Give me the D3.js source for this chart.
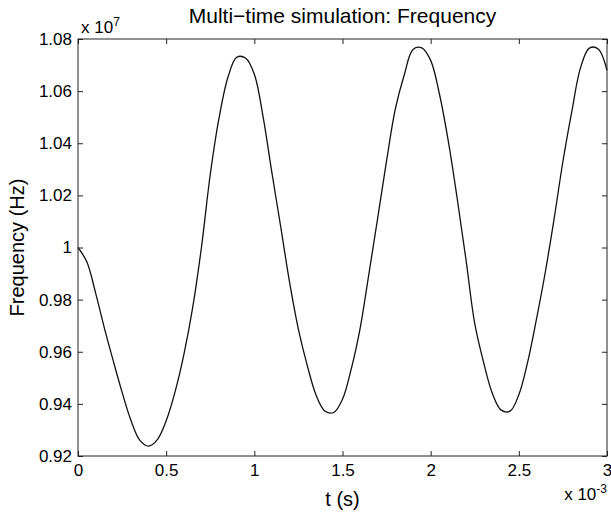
<!DOCTYPE html>
<meta charset="utf-8">
<script src="https://d3js.org/d3.v7.min.js"></script>
<style>
  body { margin: 0; background: #fff; }
  text { font-family: "Liberation Sans", Arial, Helvetica, sans-serif; fill: #000; }
</style>
<div id="my_dataviz"></div>
<script>

// time in units of 1e-3 s, frequency in units of 1e7 Hz
var timeMs = [0, 0.05, 0.1, 0.15, 0.2, 0.25, 0.3, 0.35, 0.4, 0.45,
  0.5, 0.55, 0.6, 0.65, 0.7, 0.75, 0.8, 0.85, 0.9, 0.95,
  1.0, 1.05, 1.1, 1.15, 1.2, 1.25, 1.3, 1.35, 1.4, 1.45,
  1.5, 1.55, 1.6, 1.65, 1.7, 1.75, 1.8, 1.85, 1.9, 1.95,
  2.0, 2.05, 2.1, 2.15, 2.2, 2.25, 2.3, 2.35, 2.4, 2.45,
  2.5, 2.55, 2.6, 2.65, 2.7, 2.75, 2.8, 2.85, 2.9, 2.95, 3.0]
var freqE7 = [1.0000, 0.9945, 0.9825, 0.9690, 0.9565, 0.9445, 0.9337, 0.9261, 0.9238, 0.9263,
  0.9335, 0.9445, 0.9588, 0.9768, 1.0000, 1.0280, 1.0497, 1.0652, 1.0730, 1.0727,
  1.0665, 1.0500, 1.0285, 1.0078, 0.9866, 0.9686, 0.9548, 0.9434, 0.9373, 0.9367,
  0.9418, 0.9535, 0.9690, 0.9900, 1.0115, 1.0333, 1.0533, 1.0662, 1.0760, 1.0766,
  1.0718, 1.0588, 1.0408, 1.0190, 0.9955, 0.9708, 0.9560, 0.9440, 0.9376, 0.9372,
  0.9435, 0.9560, 0.9725, 0.9905, 1.0110, 1.0330, 1.0520, 1.0690, 1.0765, 1.0762, 1.0680]

var xTicks = [0, 0.5, 1, 1.5, 2, 2.5, 3]
var xTickLabels = ["0", "0.5", "1", "1.5", "2", "2.5", "3"]
var yTicks = [0.92, 0.94, 0.96, 0.98, 1.0, 1.02, 1.04, 1.06, 1.08]
var yTickLabels = ["0.92", "0.94", "0.96", "0.98", "1", "1.02", "1.04", "1.06", "1.08"]

var W = 611, H = 512
var margin = {top: 39, right: 4, bottom: 56, left: 78},
  width = W - margin.left - margin.right,
  height = H - margin.top - margin.bottom;

var svg = d3.select("#my_dataviz")
.append("svg")
  .attr("width", W)
  .attr("height", H)

var g = svg.append("g")
  .attr("transform", "translate(" + margin.left + "," + margin.top + ")");

var x = d3.scaleLinear().domain([0, 3]).range([0, width])
var y = d3.scaleLinear().domain([0.92, 1.08]).range([height, 0])

// the curve
var line = d3.line()
  .x(function(d, i){ return x(timeMs[i]) })
  .y(function(d){ return y(d) })
  .curve(d3.curveCatmullRom)

g.append("path")
  .datum(freqE7)
  .attr("d", line)
  .attr("fill", "none")
  .attr("stroke", "#111")
  .attr("stroke-width", 1.3)

// axes, ticks pointing inward on all four sides
g.append("g")
  .attr("transform", "translate(0," + height + ")")
  .call(d3.axisBottom(x).tickValues(xTicks)
    .tickFormat(function(d, i){ return xTickLabels[i] })
    .tickSize(-5).tickPadding(8))
g.append("g")
  .call(d3.axisLeft(y).tickValues(yTicks)
    .tickFormat(function(d, i){ return yTickLabels[i] })
    .tickSize(-5).tickPadding(6))
g.append("g")
  .call(d3.axisTop(x).tickValues(xTicks).tickFormat("").tickSize(-5))
g.append("g")
  .attr("transform", "translate(" + width + ",0)")
  .call(d3.axisRight(y).tickValues(yTicks).tickFormat("").tickSize(-5))

g.selectAll(".domain").remove()
g.selectAll(".tick line").attr("stroke", "#222")
g.selectAll(".tick text")
  .style("font-size", "17px")
  .attr("font-family", null)

g.append("rect")
  .attr("x", 0).attr("y", 0)
  .attr("width", width).attr("height", height)
  .attr("fill", "none")
  .attr("stroke", "#222")
  .attr("stroke-width", 1)

// title and labels
svg.append("text")
  .attr("x", margin.left + width / 2)
  .attr("y", 23)
  .attr("text-anchor", "middle")
  .style("font-size", "21px")
  .text("Multi\u2212time simulation: Frequency")

svg.append("text")
  .attr("x", margin.left + width / 2)
  .attr("y", 506)
  .attr("text-anchor", "middle")
  .style("font-size", "20px")
  .text("t (s)")

svg.append("text")
  .attr("transform", "translate(24," + (margin.top + height / 2) + ") rotate(-90)")
  .attr("text-anchor", "middle")
  .style("font-size", "20px")
  .text("Frequency (Hz)")

// exponent labels
var e7 = svg.append("text")
  .attr("x", 81).attr("y", 33)
  .style("font-size", "17px")
e7.append("tspan").text("x 10")
e7.append("tspan").attr("dy", -7).style("font-size", "12px").text("7")

var e3 = svg.append("text")
  .attr("x", 607).attr("y", 500)
  .attr("text-anchor", "end")
  .style("font-size", "17px")
e3.append("tspan").text("x 10")
e3.append("tspan").attr("dy", -7).style("font-size", "12px").text("-3")

</script>
